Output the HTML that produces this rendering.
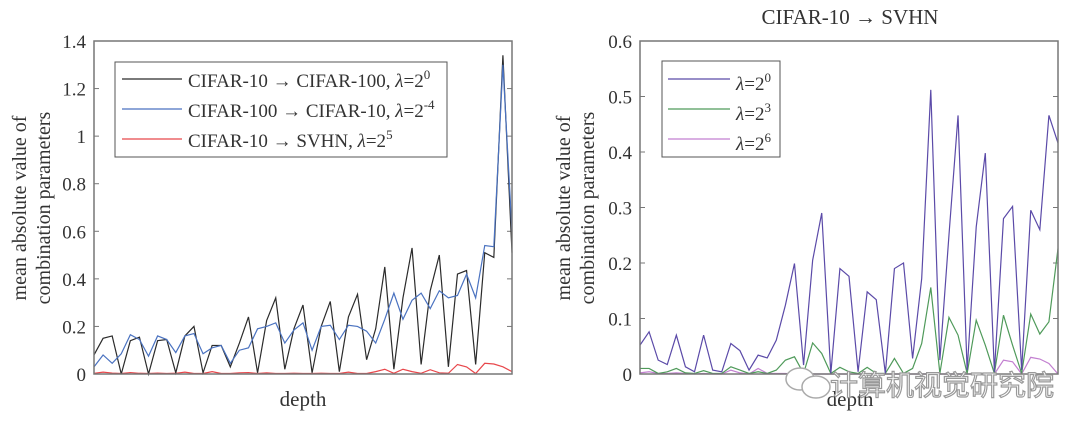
<!DOCTYPE html>
<html><head><meta charset="utf-8"><style>
body{margin:0;background:#fff;width:1080px;height:430px;overflow:hidden}
svg text{font-family:"Liberation Serif",serif;fill:#333}
</style></head><body>
<svg id="c" width="1080" height="430"></svg>
<script>
const leftBlack=[0.08,0.15,0.16,0,0.14,0.155,0,0.14,0.145,0.005,0.16,0.2,0.005,0.12,0.12,0.03,0.13,0.24,0.005,0.225,0.32,0.02,0.19,0.29,0.005,0.2,0.305,0.01,0.24,0.335,0.06,0.19,0.45,0.02,0.32,0.53,0.04,0.35,0.5,0.03,0.42,0.435,0.04,0.51,0.49,1.34,0.51];
const leftBlue=[0.03,0.08,0.045,0.085,0.165,0.145,0.075,0.16,0.145,0.09,0.16,0.17,0.085,0.11,0.12,0.045,0.1,0.11,0.19,0.2,0.215,0.13,0.185,0.215,0.1,0.2,0.205,0.145,0.205,0.2,0.18,0.13,0.23,0.34,0.23,0.31,0.34,0.275,0.35,0.32,0.33,0.42,0.32,0.54,0.535,1.3,0.6];
const leftRed=[0.003,0.008,0.004,0.002,0.006,0.003,0.002,0.004,0.002,0.003,0.008,0.002,0.002,0.01,0.002,0.002,0.005,0.006,0.002,0.005,0.002,0.002,0.003,0.002,0.002,0.003,0.002,0.002,0.008,0.002,0.002,0.01,0.02,0.003,0.02,0.01,0.003,0.018,0.005,0.003,0.04,0.03,0.002,0.045,0.042,0.03,0.01];
const rightA=[0.052,0.076,0.025,0.017,0.07,0.013,0.004,0.07,0.007,0.004,0.055,0.042,0.007,0.034,0.029,0.061,0.124,0.199,0.016,0.205,0.29,0.001,0.19,0.176,0.004,0.148,0.134,0.001,0.19,0.2,0.028,0.172,0.512,0.025,0.25,0.466,0.007,0.265,0.398,0.004,0.28,0.302,0.007,0.295,0.26,0.466,0.416];
const rightB=[0.01,0.01,0.001,0.004,0.01,0.002,0.001,0.006,0.001,0.001,0.013,0.007,0.001,0.004,0.001,0.007,0.025,0.031,0.001,0.056,0.037,0.001,0.012,0.004,0.001,0.012,0.001,0.001,0.028,0.001,0.01,0.055,0.156,0.001,0.102,0.07,0.001,0.097,0.052,0.001,0.106,0.052,0.001,0.108,0.072,0.094,0.226];
const rightC=[0.002,0.004,0.001,0.001,0.002,0.001,0,0.001,0,0,0.007,0.002,0,0.01,0.001,0.001,0.001,0,0,0,0,0,0,0,0,0,0,0,0,0,0,0,0,0,0,0,0,0,0,0,0.025,0.022,0,0.03,0.027,0.019,0];
const leftTicks=[0,0.2,0.4,0.6,0.8,1,1.2,1.4];
const rightTicks=[0,0.1,0.2,0.3,0.4,0.5,0.6];
const NS="http://www.w3.org/2000/svg";
const svg=document.getElementById('c');
function mk(t,a,p){const e=document.createElementNS(NS,t);for(const k in a)e.setAttribute(k,a[k]);(p||svg).appendChild(e);return e;}
function panel(x0,x1,y0,y1,ymax,ticks,series,name){
  const g=mk('g',{});
  
  
  const sy=v=>y1-(v/ymax)*(y1-y0);
  ticks.forEach(t=>{
    const y=sy(t);
    const l=mk('line',{x1:x0,x2:x0+5,y1:y,y2:y,stroke:'#777','stroke-width':1},g);
    
    
    mk('line',{x1:x1-5,x2:x1,y1:y,y2:y,stroke:'#777','stroke-width':1},g);
    const tx=mk('text',{x:x0-8,y:y+7,'text-anchor':'end','font-size':19},g);
    tx.textContent=String(t);
    
    
  });
  series.forEach(s=>{
    const n=s.data.length,sx=i=>x0+i*(x1-x0)/(n-1);
    const pl=mk('polyline',{points:s.data.map((v,i)=>sx(i)+','+sy(v)).join(' '),fill:'none',stroke:s.color,'stroke-width':1.2},g);
    
    
  });
  const b=mk('rect',{x:x0,y:y0,width:x1-x0,height:y1-y0,fill:'none',stroke:'#777','stroke-width':1.5},g);
  
  
}
panel(94,512,41,374,1.4,leftTicks,[
 {data:leftRed,color:'#e8474b',name:'series-cifar10-svhn'},
 {data:leftBlack,color:'#2b2b2b',name:'series-cifar10-cifar100'},
 {data:leftBlue,color:'#4a72c0',name:'series-cifar100-cifar10'}],'left-chart');
panel(640,1058,41,374,0.6,rightTicks,[
 {data:rightC,color:'#c27fd0',name:'series-lambda-2-6'},
 {data:rightB,color:'#4f9a5a',name:'series-lambda-2-3'},
 {data:rightA,color:'#5b4aa8',name:'series-lambda-2-0'}],'right-chart');
</script>
<svg width="1080" height="430" style="position:absolute;left:0;top:0">
<g>
<rect x="115" y="62" width="332" height="95" fill="#fff" stroke="#555" stroke-width="1"/>
<line x1="122" x2="182" y1="79" y2="79" stroke="#2b2b2b" stroke-width="1.2"/>
<line x1="122" x2="182" y1="109" y2="109" stroke="#4a72c0" stroke-width="1.2"/>
<line x1="122" x2="182" y1="139" y2="139" stroke="#e8474b" stroke-width="1.2"/>
<text x="188" y="87" font-size="19">CIFAR-10 → CIFAR-100, <tspan font-style="italic">λ</tspan>=2<tspan dy="-8" font-size="13">0</tspan></text>
<text x="188" y="117" font-size="19">CIFAR-100 → CIFAR-10, <tspan font-style="italic">λ</tspan>=2<tspan dy="-8" font-size="13">-4</tspan></text>
<text x="188" y="147" font-size="19">CIFAR-10 → SVHN, <tspan font-style="italic">λ</tspan>=2<tspan dy="-8" font-size="13">5</tspan></text>
</g>
<g>
<rect x="662" y="61" width="118" height="96" fill="#fff" stroke="#555" stroke-width="1"/>
<line x1="668" x2="730" y1="79" y2="79" stroke="#5b4aa8" stroke-width="1.2"/>
<line x1="668" x2="730" y1="109" y2="109" stroke="#4f9a5a" stroke-width="1.2"/>
<line x1="668" x2="730" y1="139" y2="139" stroke="#c27fd0" stroke-width="1.2"/>
<text x="736" y="90" font-size="19"><tspan font-style="italic">λ</tspan>=2<tspan dy="-8" font-size="13">0</tspan></text>
<text x="736" y="120" font-size="19"><tspan font-style="italic">λ</tspan>=2<tspan dy="-8" font-size="13">3</tspan></text>
<text x="736" y="150" font-size="19"><tspan font-style="italic">λ</tspan>=2<tspan dy="-8" font-size="13">6</tspan></text>
</g>
<text x="303" y="406" font-size="21" text-anchor="middle">depth</text>
<text x="850" y="406" font-size="21" text-anchor="middle">depth</text>
<text x="850" y="24" font-size="21" text-anchor="middle">CIFAR-10 → SVHN</text>
<text transform="translate(26,208) rotate(-90)" font-size="20" text-anchor="middle"><tspan x="0" dy="0">mean absolute value of</tspan><tspan x="0" dy="24">combination parameters</tspan></text>
<text transform="translate(570,208) rotate(-90)" font-size="20" text-anchor="middle"><tspan x="0" dy="0">mean absolute value of</tspan><tspan x="0" dy="24">combination parameters</tspan></text>
<g>
<ellipse cx="800" cy="379" rx="14" ry="11" fill="#fff" stroke="#aaa" stroke-width="1.5"/>
<ellipse cx="816" cy="387" rx="14" ry="11" fill="#fff" stroke="#aaa" stroke-width="1.5"/>
<text x="830" y="395" font-size="28" style="font-family:'Noto Sans CJK SC',sans-serif;fill:#fff;stroke:#999;stroke-width:1.2">计算机视觉研究院</text>
</g>
</svg>
</body></html>
